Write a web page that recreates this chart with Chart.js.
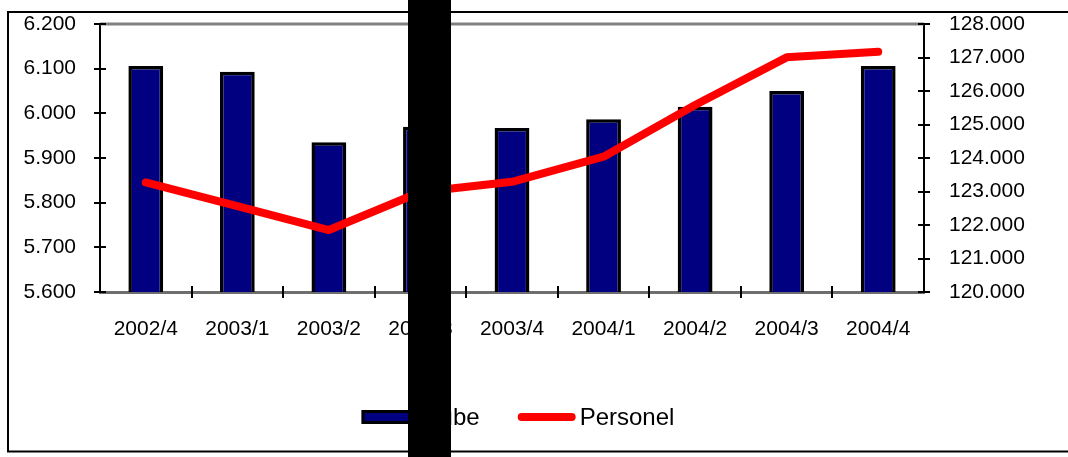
<!DOCTYPE html>
<html>
<head>
<meta charset="utf-8">
<script src="https://cdn.jsdelivr.net/npm/chart.js@4.4.1/dist/chart.umd.min.js"></script>
<style>
  body { margin: 0; background: #fff; }
  #wrap { position: relative; width: 1068px; height: 457px; }
  #block { position: absolute; left: 408px; top: 0; width: 43px; height: 457px; background: #000; }
</style>
</head>
<body>
<div id="wrap">
  <canvas id="myChart" width="1068" height="457"></canvas>
  <div id="block"></div>
</div>
<script>
//---------------------------- veriler ----------------------------
const donemler = ['2002/4', '2003/1', '2003/2', '2003/3', '2003/4', '2004/1', '2004/2', '2004/3', '2004/4'];
const subeSayisi = [6106, 6093, 5935, 5970, 5967, 5987, 6015, 6050, 6106];
const personelSayisi = [123270, 122560, 121850, 122985, 123290, 124040, 125580, 127005, 127170];
const subeTicks = [5600, 5700, 5800, 5900, 6000, 6100, 6200];
const personelTicks = [120000, 121000, 122000, 123000, 124000, 125000, 126000, 127000, 128000];

const yazi = '"Liberation Sans", Arial, sans-serif';
Chart.defaults.font.family = yazi;
Chart.defaults.font.size = 21;
Chart.defaults.color = '#000';

// 6200 -> "6.200"
const nokta = v => String(Math.round(v)).replace(/\B(?=(\d{3})+(?!\d))/g, '.');

// dış çerçeve
const cerceve = {
    id: 'cerceve',
    beforeDraw(chart) {
        const ctx = chart.ctx;
        ctx.save();
        ctx.strokeStyle = '#000';
        ctx.lineWidth = 2;
        ctx.strokeRect(8, 12, 1100, 439.5);
        ctx.restore();
    }
};

// eksenleri kesen çentikler + çizim alanının üst kenarı
const centikler = {
    id: 'centikler',
    afterDatasetsDraw(chart) {
        const { ctx, chartArea: a, scales } = chart;
        ctx.save();
        ctx.strokeStyle = '#808080';
        ctx.lineWidth = 3;
        ctx.beginPath();
        ctx.moveTo(a.left, a.top);
        ctx.lineTo(a.right, a.top);
        ctx.stroke();

        ctx.strokeStyle = '#000';
        ctx.lineWidth = 2;
        ctx.beginPath();
        scales.y.ticks.forEach(t => {
            const y = Math.round(scales.y.getPixelForValue(t.value));
            ctx.moveTo(a.left - 6, y);
            ctx.lineTo(a.left + 6, y);
        });
        scales.y1.ticks.forEach(t => {
            const y = Math.round(scales.y1.getPixelForValue(t.value));
            ctx.moveTo(a.right - 6, y);
            ctx.lineTo(a.right + 6, y);
        });
        const x = scales.x;
        for (let i = 1; i < donemler.length; i++) {
            const px = Math.round(x.getPixelForValue(i - 0.5));
            ctx.moveTo(px, a.bottom - 6);
            ctx.lineTo(px, a.bottom + 6);
        }
        ctx.stroke();
        ctx.restore();
    }
};

// alttaki açıklama (legend)
const aciklama = {
    id: 'aciklama',
    afterDraw(chart) {
        const { ctx, chartArea: a } = chart;
        const ds = chart.data.datasets;
        const kutu = 58, ara = 4, bosluk = 38;
        ctx.save();
        ctx.font = '24px ' + yazi;
        let genislik = bosluk * (ds.length - 1);
        ds.forEach(d => { genislik += kutu + ara + ctx.measureText(d.label).width; });
        let x = (a.left + a.right) / 2 + 6 - genislik / 2;
        const y = a.bottom + 125;
        ds.forEach(d => {
            if (d.type === 'line') {
                ctx.strokeStyle = d.borderColor;
                ctx.lineWidth = d.borderWidth;
                ctx.lineCap = 'round';
                ctx.beginPath();
                ctx.moveTo(x + 4, y);
                ctx.lineTo(x + kutu - 4, y);
                ctx.stroke();
            } else {
                ctx.fillStyle = d.backgroundColor;
                ctx.fillRect(x, y - 7, kutu, 14);
                ctx.strokeStyle = d.borderColor;
                ctx.lineWidth = 3;
                ctx.strokeRect(x + 1.5, y - 5.5, kutu - 3, 11);
            }
            ctx.fillStyle = '#000';
            ctx.textBaseline = 'middle';
            ctx.fillText(d.label, x + kutu + ara, y + 1);
            x += kutu + ara + ctx.measureText(d.label).width + bosluk;
        });
        ctx.restore();
    }
};

// eksen boyutları sabit, etiket payı yok
const sabitle = (w, h) => s => {
    if (w) s.width = w;
    if (h) s.height = h;
    s.paddingTop = 0;
    s.paddingBottom = 0;
    s.paddingLeft = 0;
    s.paddingRight = 0;
};

const ctx = document.getElementById('myChart');
const myChart = new Chart(ctx, {
    data: {
        labels: donemler,
        datasets: [{
            type: 'bar',
            label: 'Şube',
            data: subeSayisi,
            yAxisID: 'y',
            backgroundColor: '#000080',
            borderColor: '#000',
            borderWidth: 3.5,
            borderSkipped: false,
            barPercentage: 0.38,
            categoryPercentage: 1,
            order: 1,
        }, {
            type: 'line',
            label: 'Personel',
            data: personelSayisi,
            yAxisID: 'y1',
            borderColor: '#ff0000',
            backgroundColor: '#ff0000',
            borderWidth: 8,
            borderCapStyle: 'round',
            borderJoinStyle: 'round',
            pointRadius: 0,
            tension: 0,
            order: 0,
        }]
    },
    options: {
        responsive: false,
        animation: false,
        layout: {
            padding: { top: 24, left: 0, right: 0, bottom: 0 }
        },
        plugins: {
            legend: { display: false },
            tooltip: { enabled: false },
        },
        scales: {
            x: {
                offset: true,
                grid: { display: false, drawTicks: false },
                border: { display: true, color: '#6e6e6e', width: 3 },
                ticks: { padding: 25, maxRotation: 0, autoSkip: false },
                afterFit: sabitle(0, 165),
            },
            y: {
                position: 'left',
                min: subeTicks[0],
                max: subeTicks[subeTicks.length - 1],
                afterBuildTicks: s => { s.ticks = subeTicks.map(v => ({ value: v })); },
                grid: { display: false, drawTicks: false },
                border: { display: true, color: '#000', width: 2 },
                ticks: { padding: 24, callback: v => nokta(v) },
                afterFit: sabitle(100, 0),
            },
            y1: {
                position: 'right',
                min: personelTicks[0],
                max: personelTicks[personelTicks.length - 1],
                afterBuildTicks: s => { s.ticks = personelTicks.map(v => ({ value: v })); },
                grid: { display: false, drawTicks: false },
                border: { display: true, color: '#000', width: 2 },
                ticks: { padding: 25, callback: v => nokta(v) },
                afterFit: sabitle(144, 0),
            },
        },
    },
    plugins: [cerceve, centikler, aciklama]
});
</script>
</body>
</html>
